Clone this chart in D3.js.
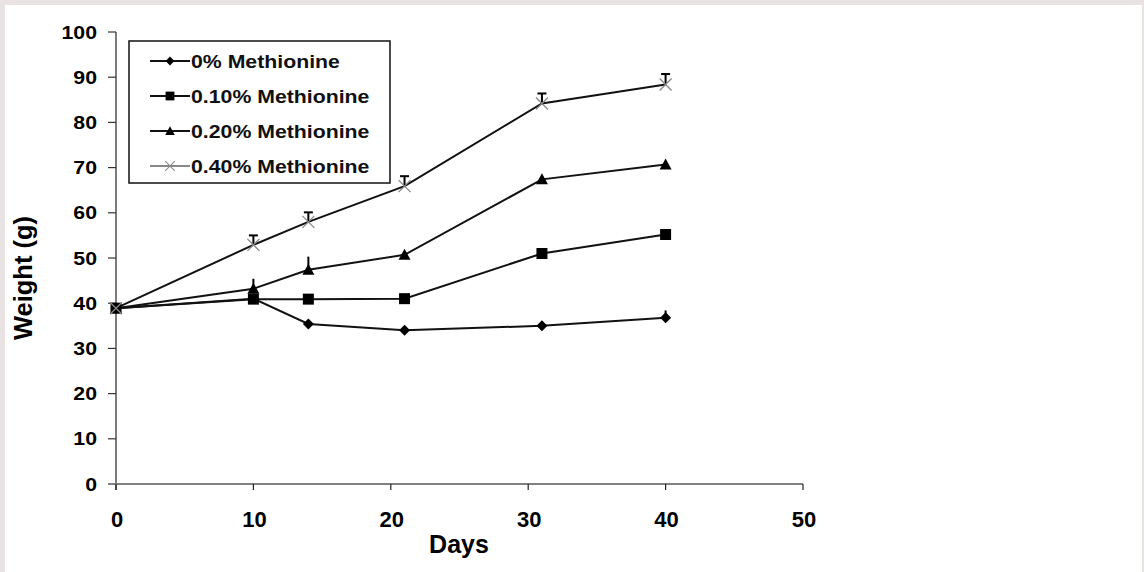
<!DOCTYPE html>
<html>
<head>
<meta charset="utf-8">
<script src="https://cdn.jsdelivr.net/npm/d3@7"></script>
<style>
  html, body { margin: 0; padding: 0; background: #e8e2e2; }
  svg { display: block; }
</style>
</head>
<body>
<svg id="chart" width="1144" height="572"></svg>
<script>
// ---- Data ----
const days = [0, 10, 14, 21, 31, 40];
const seriesNames = ["0% Methionine", "0.10% Methionine", "0.20% Methionine", "0.40% Methionine"];
const met0   = [38.9, 41.0, 35.4, 34.0, 35.0, 36.8];
const met010 = [38.9, 40.9, 40.9, 41.0, 51.0, 55.2];
const met020 = [38.9, 43.2, 47.4, 50.7, 67.4, 70.7];
const met040 = [38.9, 52.9, 58.0, 65.9, 84.2, 88.4];
const err0   = [0, 0, 0, 0, 0, 1.6];
const err010 = [0, 0, 0, 0, 0, 0];
const err020 = [0, 2.2, 2.9, 0, 0, 0];
const err040 = [0, 2.1, 2.1, 2.2, 2.2, 2.3];
const xTicks = [0, 10, 20, 30, 40, 50];
const yTicks = [0, 10, 20, 30, 40, 50, 60, 70, 80, 90, 100];
const xTitle = "Days";
const yTitle = "Weight (g)";

const series = [
  { name: seriesNames[0], values: met0,   errs: err0,   marker: "diamond",  caps: false },
  { name: seriesNames[1], values: met010, errs: err010, marker: "square",   caps: false },
  { name: seriesNames[2], values: met020, errs: err020, marker: "triangle", caps: false },
  { name: seriesNames[3], values: met040, errs: err040, marker: "x",        caps: true }
];

// ---- Layout ----
const svg = d3.select("#chart");
svg.append("rect").attr("x", 5).attr("y", 5).attr("width", 1137).attr("height", 567).attr("fill", "#ffffff");

const x = d3.scaleLinear().domain([0, 50]).range([116, 803]);
const y = d3.scaleLinear().domain([0, 100]).range([484, 32]);

const FONT = "'Liberation Sans', Arial, Helvetica, sans-serif";

function markerPath(type) {
  switch (type) {
    case "diamond": return "M0,-5.5L5.5,0L0,5.5L-5.5,0Z";
    case "square": return "M-5.5,-5.5H5.5V5.5H-5.5Z";
    case "triangle": return "M0,-6L6,5H-6Z";
    case "x": return "M-6,-6L6,6M-6,6L6,-6";
  }
}

// ---- Axes ----
const yAxis = svg.append("g");
yAxis.append("line").attr("x1", x(0)).attr("x2", x(0)).attr("y1", y(100)).attr("y2", y(0) + 6)
  .attr("stroke", "#222").attr("stroke-width", 1.2);
yAxis.selectAll("line.tick").data(yTicks).enter().append("line")
  .attr("class", "tick")
  .attr("x1", x(0) - 8).attr("x2", x(0))
  .attr("y1", d => y(d)).attr("y2", d => y(d))
  .attr("stroke", "#333").attr("stroke-width", 1.2);
yAxis.selectAll("g.lab").data(yTicks).enter().append("g")
  .attr("class", "lab")
  .attr("transform", d => `translate(97,${y(d)})`)
  .append("text")
  .attr("transform", "scale(1.15,1)")
  .attr("text-anchor", "end")
  .attr("dy", "0.36em")
  .attr("font-family", FONT).attr("font-size", 18.5).attr("font-weight", "bold").attr("fill", "#000")
  .text(d => d);

const xAxis = svg.append("g");
xAxis.append("line").attr("x1", x(0) - 7).attr("x2", x(50)).attr("y1", y(0)).attr("y2", y(0))
  .attr("stroke", "#808080").attr("stroke-width", 2);
xAxis.selectAll("line.tick").data(xTicks).enter().append("line")
  .attr("class", "tick")
  .attr("x1", d => x(d)).attr("x2", d => x(d))
  .attr("y1", y(0)).attr("y2", y(0) + 6)
  .attr("stroke", "#222").attr("stroke-width", 1.2);
xAxis.selectAll("text").data(xTicks).enter().append("text")
  .attr("x", d => x(d) + 1).attr("y", 527)
  .attr("text-anchor", "middle")
  .attr("font-family", FONT).attr("font-size", 22).attr("font-weight", "bold").attr("fill", "#000")
  .text(d => d);

svg.append("text").attr("x", 459).attr("y", 553).attr("text-anchor", "middle")
  .attr("font-family", FONT).attr("font-size", 25).attr("font-weight", "bold").text(xTitle);
svg.append("text").attr("transform", "translate(32,278) rotate(-90)").attr("text-anchor", "middle")
  .attr("font-family", FONT).attr("font-size", 25.5).attr("font-weight", "bold").text(yTitle);

// ---- Series ----
const line = d3.line().x((d, i) => x(days[i])).y(d => y(d));

series.forEach(s => {
  svg.append("path").datum(s.values).attr("d", line)
    .attr("fill", "none").attr("stroke", "#111").attr("stroke-width", 2);
});

series.forEach(s => {
  const g = svg.append("g");
  s.values.forEach((v, i) => {
    if (!s.errs[i]) return;
    g.append("line").attr("x1", x(days[i])).attr("x2", x(days[i]))
      .attr("y1", y(v)).attr("y2", y(v + s.errs[i]))
      .attr("stroke", "#000").attr("stroke-width", 2);
    if (s.caps) {
      g.append("line").attr("x1", x(days[i]) - 4.5).attr("x2", x(days[i]) + 4.5)
        .attr("y1", y(v + s.errs[i])).attr("y2", y(v + s.errs[i]))
        .attr("stroke", "#000").attr("stroke-width", 2);
    }
  });
});

series.forEach(s => {
  svg.append("g").selectAll("path").data(s.values).enter().append("path")
    .attr("transform", (d, i) => `translate(${x(days[i])},${y(d)})`)
    .attr("d", markerPath(s.marker))
    .attr("fill", s.marker === "x" ? "none" : "#000")
    .attr("stroke", s.marker === "x" ? "#888" : "none")
    .attr("stroke-width", 1.3);
});

// ---- Legend ----
const legend = svg.append("g");
legend.append("rect").attr("x", 129).attr("y", 41).attr("width", 261).attr("height", 142)
  .attr("fill", "#fff").attr("stroke", "#111").attr("stroke-width", 1.5);
series.forEach((s, i) => {
  const ly = 61 + i * 35;
  const lg = legend.append("g").attr("transform", `translate(0,${ly})`);
  lg.append("line").attr("x1", 150).attr("x2", 190).attr("y1", 0).attr("y2", 0)
    .attr("stroke", s.marker === "x" ? "#888" : "#111").attr("stroke-width", 1.8);
  lg.append("path").attr("transform", "translate(170,0) scale(0.8)").attr("d", markerPath(s.marker))
    .attr("fill", s.marker === "x" ? "none" : "#000")
    .attr("stroke", s.marker === "x" ? "#888" : "none").attr("stroke-width", 1.3);
  lg.append("g").attr("transform", "translate(191,0)").append("text")
    .attr("transform", "scale(1.12,1)")
    .attr("dy", "0.36em")
    .attr("font-family", FONT).attr("font-size", 19).attr("font-weight", "bold").attr("fill", "#111")
    .text(s.name);
});
</script>
</body>
</html>
